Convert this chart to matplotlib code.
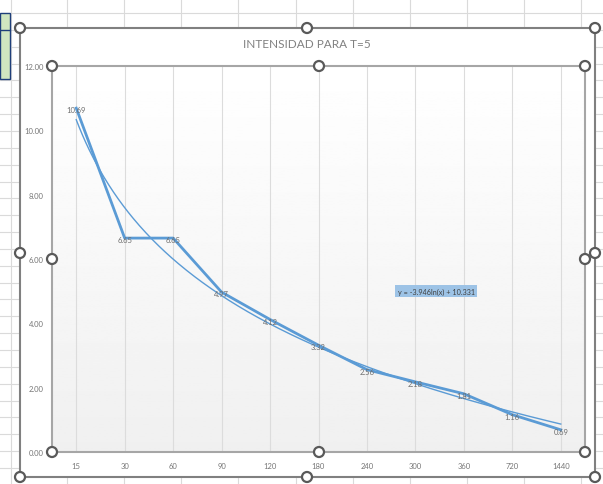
import numpy as np
import matplotlib
matplotlib.use("Agg")
import matplotlib.pyplot as plt
from matplotlib.patches import Rectangle, Circle

plt.rcParams['font.family'] = ['Lato', 'DejaVu Sans']

# ---- data ----
categories = ["15", "30", "60", "90", "120", "180", "240", "300", "360", "720", "1440"]
values = [10.69, 6.65, 6.65, 4.97, 4.12, 3.32, 2.56, 2.18, 1.81, 1.16, 0.69]
y_ticks = [0, 2, 4, 6, 8, 10, 12]
title = "INTENSIDAD PARA T=5"
trend_a = -3.946
trend_b = 10.331
trend_label = "y = -3.946ln(x) + 10.331"

W, H = 603, 485
fig = plt.figure(figsize=(W / 100, H / 100), dpi=100)

# ---- spreadsheet background (pixel coordinates) ----
bg = fig.add_axes([0, 0, 1, 1])
bg.set_xlim(0, W)
bg.set_ylim(H, 0)
bg.axis('off')
grid_c = '#dadada'
for k in range(0, 30):
    y = 14 + 16.85 * k
    bg.plot([0, W], [y, y], color=grid_c, lw=0.8, zorder=1)
for x in [10.5, 67, 124, 181, 238, 296, 353, 410, 467, 524, 581]:
    bg.plot([x, x], [0, H], color=grid_c, lw=0.8, zorder=1)
# green selected cell
bg.add_patch(Rectangle((0, 14), 10, 66, facecolor='#d0e6c0', edgecolor='#1f3f7a', lw=1.0, zorder=2))
bg.plot([0, 10], [31, 31], color='#1f3f7a', lw=1.0, zorder=2)

# chart area
bg.add_patch(Rectangle((20, 29), 575, 449, facecolor='white', edgecolor='#808080', lw=1.5, zorder=3))
bg.text(307, 45, title, ha='center', va='center', fontsize=8.5, color='#808080', zorder=4)

# ---- plot area ----
L, R, T, B = 52, 585, 67, 453
ax = fig.add_axes([L / W, 1 - B / H, (R - L) / W, (B - T) / H])
n = len(categories)
xs = np.arange(n)
ax.set_xlim(-0.5, n - 0.5)
ax.set_ylim(0, 12)
grad = np.linspace(1.0, 0.94, 256).reshape(-1, 1)
ax.imshow(grad, extent=[-0.5, n - 0.5, 0, 12], aspect='auto', cmap='gray', vmin=0, vmax=1,
          origin='upper', zorder=0)
for x in xs:
    ax.plot([x, x], [0, 12], color='#dcdcdc', lw=0.8, zorder=1)

# trendline
tx = np.linspace(1, n, 300)
ty = trend_a * np.log(tx) + trend_b
ax.plot(tx - 1, ty, color='#5b9bd5', lw=1.0, zorder=3)
# data line
ax.plot(xs, values, color='#5b9bd5', lw=2.0, zorder=4, solid_joinstyle='round')
for x, v in zip(xs, values):
    ax.text(x, v - 0.05, f"{v:.2f}", ha='center', va='center', fontsize=5.5, color='#6e6e6e', zorder=5)

ax.text(7.43, 5.0, trend_label, ha='center', va='center', fontsize=5.2, color='#404040', zorder=6,
        bbox=dict(boxstyle='square,pad=0.35', facecolor='#9dc3e6', edgecolor='none'))

ax.set_xticks(xs)
ax.set_xticklabels(categories)
ax.set_yticks(y_ticks)
ax.set_yticklabels([f"{v:.2f}" for v in y_ticks])
ax.tick_params(axis='both', length=0, labelsize=5.5, labelcolor='#767676')
ax.tick_params(axis='y', pad=6)
ax.tick_params(axis='x', pad=7)
for s in ax.spines.values():
    s.set_color('#a6a6a6')
    s.set_linewidth(1.5)

# ---- selection handles overlay ----
ov = fig.add_axes([0, 0, 1, 1])
ov.set_xlim(0, W)
ov.set_ylim(H, 0)
ov.axis('off')
ov.patch.set_alpha(0)
handles = [(20, 29), (307, 29), (595, 29), (20, 254), (595, 254), (20, 478), (307, 478), (595, 478),
           (52, 67), (319, 67), (585, 67), (52, 260), (585, 260), (52, 453), (319, 453), (585, 453)]
for hx, hy in handles:
    ov.add_patch(Circle((hx, hy), 5, facecolor='white', edgecolor='#595959', lw=1.6, zorder=10))

fig.savefig("out.png", dpi=100)
